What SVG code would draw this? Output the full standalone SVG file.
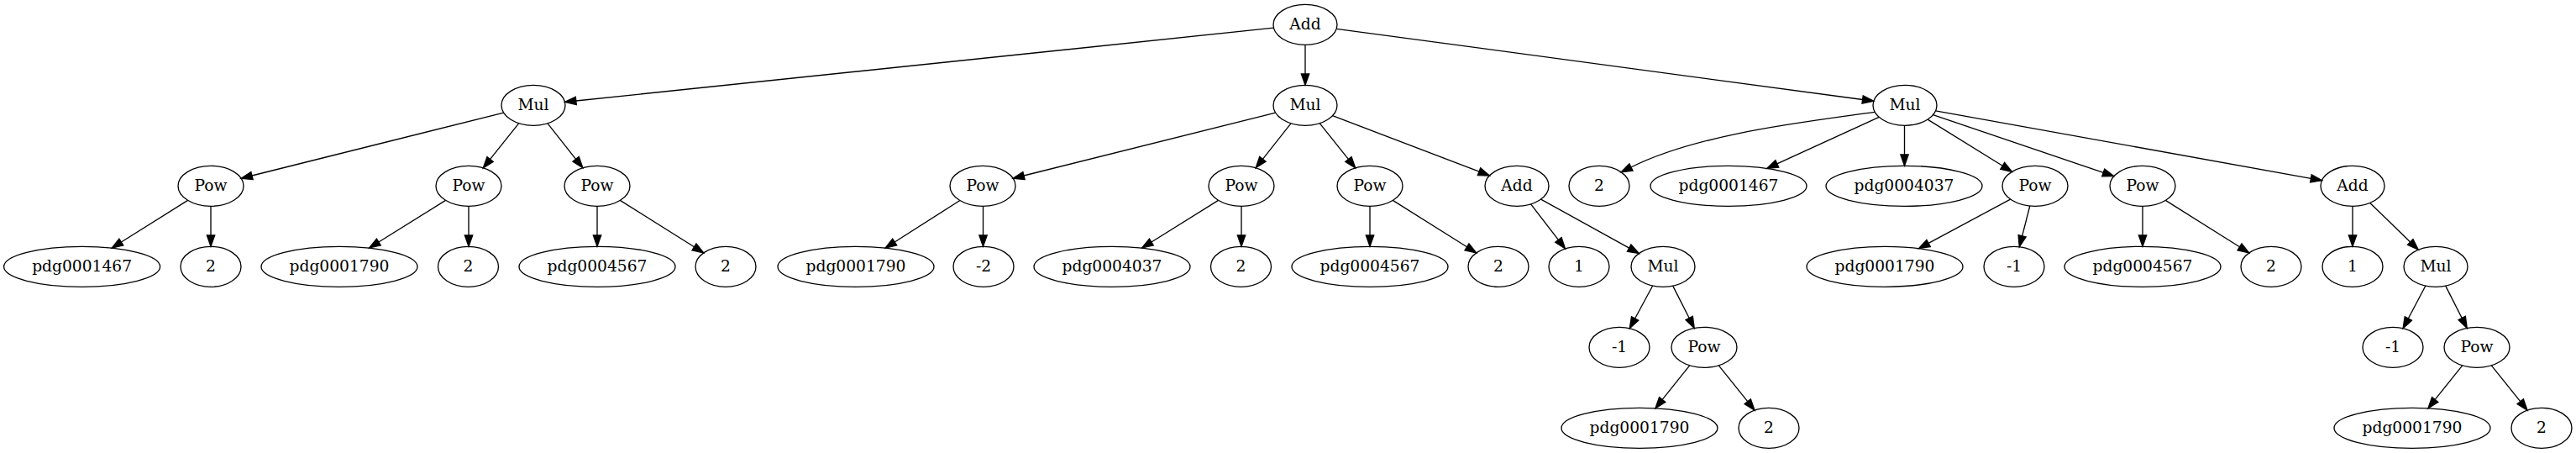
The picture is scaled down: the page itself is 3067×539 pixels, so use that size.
<svg xmlns="http://www.w3.org/2000/svg" width="3067" height="539" viewBox="0 0 3067 539">
<style>
.n ellipse{fill:none;stroke:#000;stroke-width:1.33}
.n text{font-family:"DejaVu Serif",serif;font-size:18.67px;text-anchor:middle;fill:#000}
#edges path{fill:none;stroke:#000;stroke-width:1.33;marker-end:url(#ah)}
</style>
<defs>
<marker id="ah" markerUnits="userSpaceOnUse" markerWidth="14" markerHeight="10" refX="0" refY="4.67" orient="auto" overflow="visible">
<path d="M0,0 L13.33,4.67 L0,9.33 z" fill="#000" stroke="#000" stroke-width="1.33"/>
</marker>
</defs>
<rect width="3067" height="539" fill="#fff"/>
<g id="edges">
<path d="M1516.5,33.2 L685.8,120"/>
<path d="M1554,53.3 L1554,88"/>
<path d="M1591.2,34.3 L2217.6,118.5"/>
<path d="M599.7,134.1 L300,209"/>
<path d="M617.8,146.7 L583.6,189.4"/>
<path d="M652,146.8 L685.6,189.3"/>
<path d="M1518.7,134.1 L1219,209"/>
<path d="M1537,146.8 L1503.4,189.3"/>
<path d="M1571.2,146.7 L1605.4,189.4"/>
<path d="M1586.5,137.7 L1761,204.2"/>
<path d="M2232,133.4 C2150,145 2022,159 1942,199"/>
<path d="M2237.2,139.4 L2115.8,194.9"/>
<path d="M2267.5,149.3 L2267.5,184"/>
<path d="M2295.1,142.1 L2384.2,197.3"/>
<path d="M2301.5,136.7 L2504.2,205.4"/>
<path d="M2304.5,131.9 L2751.4,212.3"/>
<path d="M223.6,238.4 L144.4,288"/>
<path d="M251,245.3 L251,280"/>
<path d="M530.5,238.4 L450.9,288"/>
<path d="M558,245.3 L558,280"/>
<path d="M711,245.3 L711,280"/>
<path d="M738.3,238.4 L826.5,293.8"/>
<path d="M1142.9,238.5 L1065.2,288"/>
<path d="M1170.5,245.3 L1170.5,280"/>
<path d="M1450.5,238.4 L1370.9,288"/>
<path d="M1478,245.3 L1478,280"/>
<path d="M1631,245.3 L1631,280"/>
<path d="M1658.3,238.4 L1746.5,293.8"/>
<path d="M1822.6,242.9 L1855.4,285.4"/>
<path d="M1834.6,237.1 L1939.7,295.1"/>
<path d="M2393.6,237.1 L2296.1,289.4"/>
<path d="M2416.8,245 L2407.6,280.8"/>
<path d="M2551,245.3 L2551,280"/>
<path d="M2578.3,238.4 L2666.5,293.8"/>
<path d="M2801,245.3 L2801,280"/>
<path d="M2821.7,241.4 L2869.7,287.9"/>
<path d="M1967.7,340 L1946.6,379"/>
<path d="M1991.7,340.1 L2011.2,378.5"/>
<path d="M2887.9,340 L2867.3,379"/>
<path d="M2911.7,340.1 L2931.2,378.5"/>
<path d="M2011.7,434.8 L1979.2,475.4"/>
<path d="M2046.3,434.8 L2080.7,477.7"/>
<path d="M2931.7,434.8 L2899.2,475.4"/>
<path d="M2966.3,434.8 L3000.7,477.7"/>
</g>
<g id="n0" class="n"><ellipse cx="1554" cy="29.3" rx="38" ry="24"/><text x="1554" y="34.8">Add</text></g>
<g id="n1" class="n"><ellipse cx="635" cy="125.3" rx="38" ry="24"/><text x="635" y="130.8">Mul</text></g>
<g id="n2" class="n"><ellipse cx="1554" cy="125.3" rx="38" ry="24"/><text x="1554" y="130.8">Mul</text></g>
<g id="n3" class="n"><ellipse cx="2268" cy="125.3" rx="38" ry="24"/><text x="2268" y="130.8">Mul</text></g>
<g id="n4" class="n"><ellipse cx="251" cy="221.3" rx="39" ry="24"/><text x="251" y="226.8">Pow</text></g>
<g id="n5" class="n"><ellipse cx="558" cy="221.3" rx="39" ry="24"/><text x="558" y="226.8">Pow</text></g>
<g id="n6" class="n"><ellipse cx="711" cy="221.3" rx="39" ry="24"/><text x="711" y="226.8">Pow</text></g>
<g id="n7" class="n"><ellipse cx="1170" cy="221.3" rx="39" ry="24"/><text x="1170" y="226.8">Pow</text></g>
<g id="n8" class="n"><ellipse cx="1478" cy="221.3" rx="39" ry="24"/><text x="1478" y="226.8">Pow</text></g>
<g id="n9" class="n"><ellipse cx="1631" cy="221.3" rx="39" ry="24"/><text x="1631" y="226.8">Pow</text></g>
<g id="n10" class="n"><ellipse cx="1806" cy="221.3" rx="38" ry="24"/><text x="1806" y="226.8">Add</text></g>
<g id="n11" class="n"><ellipse cx="1904" cy="221.3" rx="36" ry="24"/><text x="1904" y="226.8">2</text></g>
<g id="n12" class="n"><ellipse cx="2058" cy="221.3" rx="93" ry="24"/><text x="2058" y="226.8">pdg0001467</text></g>
<g id="n13" class="n"><ellipse cx="2267" cy="221.3" rx="93" ry="24"/><text x="2267" y="226.8">pdg0004037</text></g>
<g id="n14" class="n"><ellipse cx="2423" cy="221.3" rx="39" ry="24"/><text x="2423" y="226.8">Pow</text></g>
<g id="n15" class="n"><ellipse cx="2551" cy="221.3" rx="39" ry="24"/><text x="2551" y="226.8">Pow</text></g>
<g id="n16" class="n"><ellipse cx="2801" cy="221.3" rx="38" ry="24"/><text x="2801" y="226.8">Add</text></g>
<g id="n17" class="n"><ellipse cx="97.6" cy="317.3" rx="93" ry="24"/><text x="97.6" y="322.8">pdg0001467</text></g>
<g id="n18" class="n"><ellipse cx="251" cy="317.3" rx="36" ry="24"/><text x="251" y="322.8">2</text></g>
<g id="n19" class="n"><ellipse cx="404" cy="317.3" rx="93" ry="24"/><text x="404" y="322.8">pdg0001790</text></g>
<g id="n20" class="n"><ellipse cx="557.5" cy="317.3" rx="36" ry="24"/><text x="557.5" y="322.8">2</text></g>
<g id="n21" class="n"><ellipse cx="711" cy="317.3" rx="93" ry="24"/><text x="711" y="322.8">pdg0004567</text></g>
<g id="n22" class="n"><ellipse cx="864" cy="317.3" rx="36" ry="24"/><text x="864" y="322.8">2</text></g>
<g id="n23" class="n"><ellipse cx="1019" cy="317.3" rx="93" ry="24"/><text x="1019" y="322.8">pdg0001790</text></g>
<g id="n24" class="n"><ellipse cx="1171" cy="317.3" rx="36" ry="24"/><text x="1171" y="322.8">-2</text></g>
<g id="n25" class="n"><ellipse cx="1324" cy="317.3" rx="93" ry="24"/><text x="1324" y="322.8">pdg0004037</text></g>
<g id="n26" class="n"><ellipse cx="1477.5" cy="317.3" rx="36" ry="24"/><text x="1477.5" y="322.8">2</text></g>
<g id="n27" class="n"><ellipse cx="1631" cy="317.3" rx="93" ry="24"/><text x="1631" y="322.8">pdg0004567</text></g>
<g id="n28" class="n"><ellipse cx="1784" cy="317.3" rx="36" ry="24"/><text x="1784" y="322.8">2</text></g>
<g id="n29" class="n"><ellipse cx="1880" cy="317.3" rx="36" ry="24"/><text x="1880" y="322.8">1</text></g>
<g id="n30" class="n"><ellipse cx="1980" cy="317.3" rx="38" ry="24"/><text x="1980" y="322.8">Mul</text></g>
<g id="n31" class="n"><ellipse cx="2244" cy="317.3" rx="93" ry="24"/><text x="2244" y="322.8">pdg0001790</text></g>
<g id="n32" class="n"><ellipse cx="2398" cy="317.3" rx="36" ry="24"/><text x="2398" y="322.8">-1</text></g>
<g id="n33" class="n"><ellipse cx="2551" cy="317.3" rx="93" ry="24"/><text x="2551" y="322.8">pdg0004567</text></g>
<g id="n34" class="n"><ellipse cx="2704" cy="317.3" rx="36" ry="24"/><text x="2704" y="322.8">2</text></g>
<g id="n35" class="n"><ellipse cx="2801" cy="317.3" rx="36" ry="24"/><text x="2801" y="322.8">1</text></g>
<g id="n36" class="n"><ellipse cx="2900" cy="317.3" rx="38" ry="24"/><text x="2900" y="322.8">Mul</text></g>
<g id="n37" class="n"><ellipse cx="1928" cy="413.3" rx="36" ry="24"/><text x="1928" y="418.8">-1</text></g>
<g id="n38" class="n"><ellipse cx="2029" cy="413.3" rx="39" ry="24"/><text x="2029" y="418.8">Pow</text></g>
<g id="n39" class="n"><ellipse cx="2849" cy="413.3" rx="36" ry="24"/><text x="2849" y="418.8">-1</text></g>
<g id="n40" class="n"><ellipse cx="2949" cy="413.3" rx="39" ry="24"/><text x="2949" y="418.8">Pow</text></g>
<g id="n41" class="n"><ellipse cx="1952" cy="509.3" rx="93" ry="24"/><text x="1952" y="514.8">pdg0001790</text></g>
<g id="n42" class="n"><ellipse cx="2106" cy="509.3" rx="36" ry="24"/><text x="2106" y="514.8">2</text></g>
<g id="n43" class="n"><ellipse cx="2872" cy="509.3" rx="93" ry="24"/><text x="2872" y="514.8">pdg0001790</text></g>
<g id="n44" class="n"><ellipse cx="3026" cy="509.3" rx="36" ry="24"/><text x="3026" y="514.8">2</text></g>
</svg>
